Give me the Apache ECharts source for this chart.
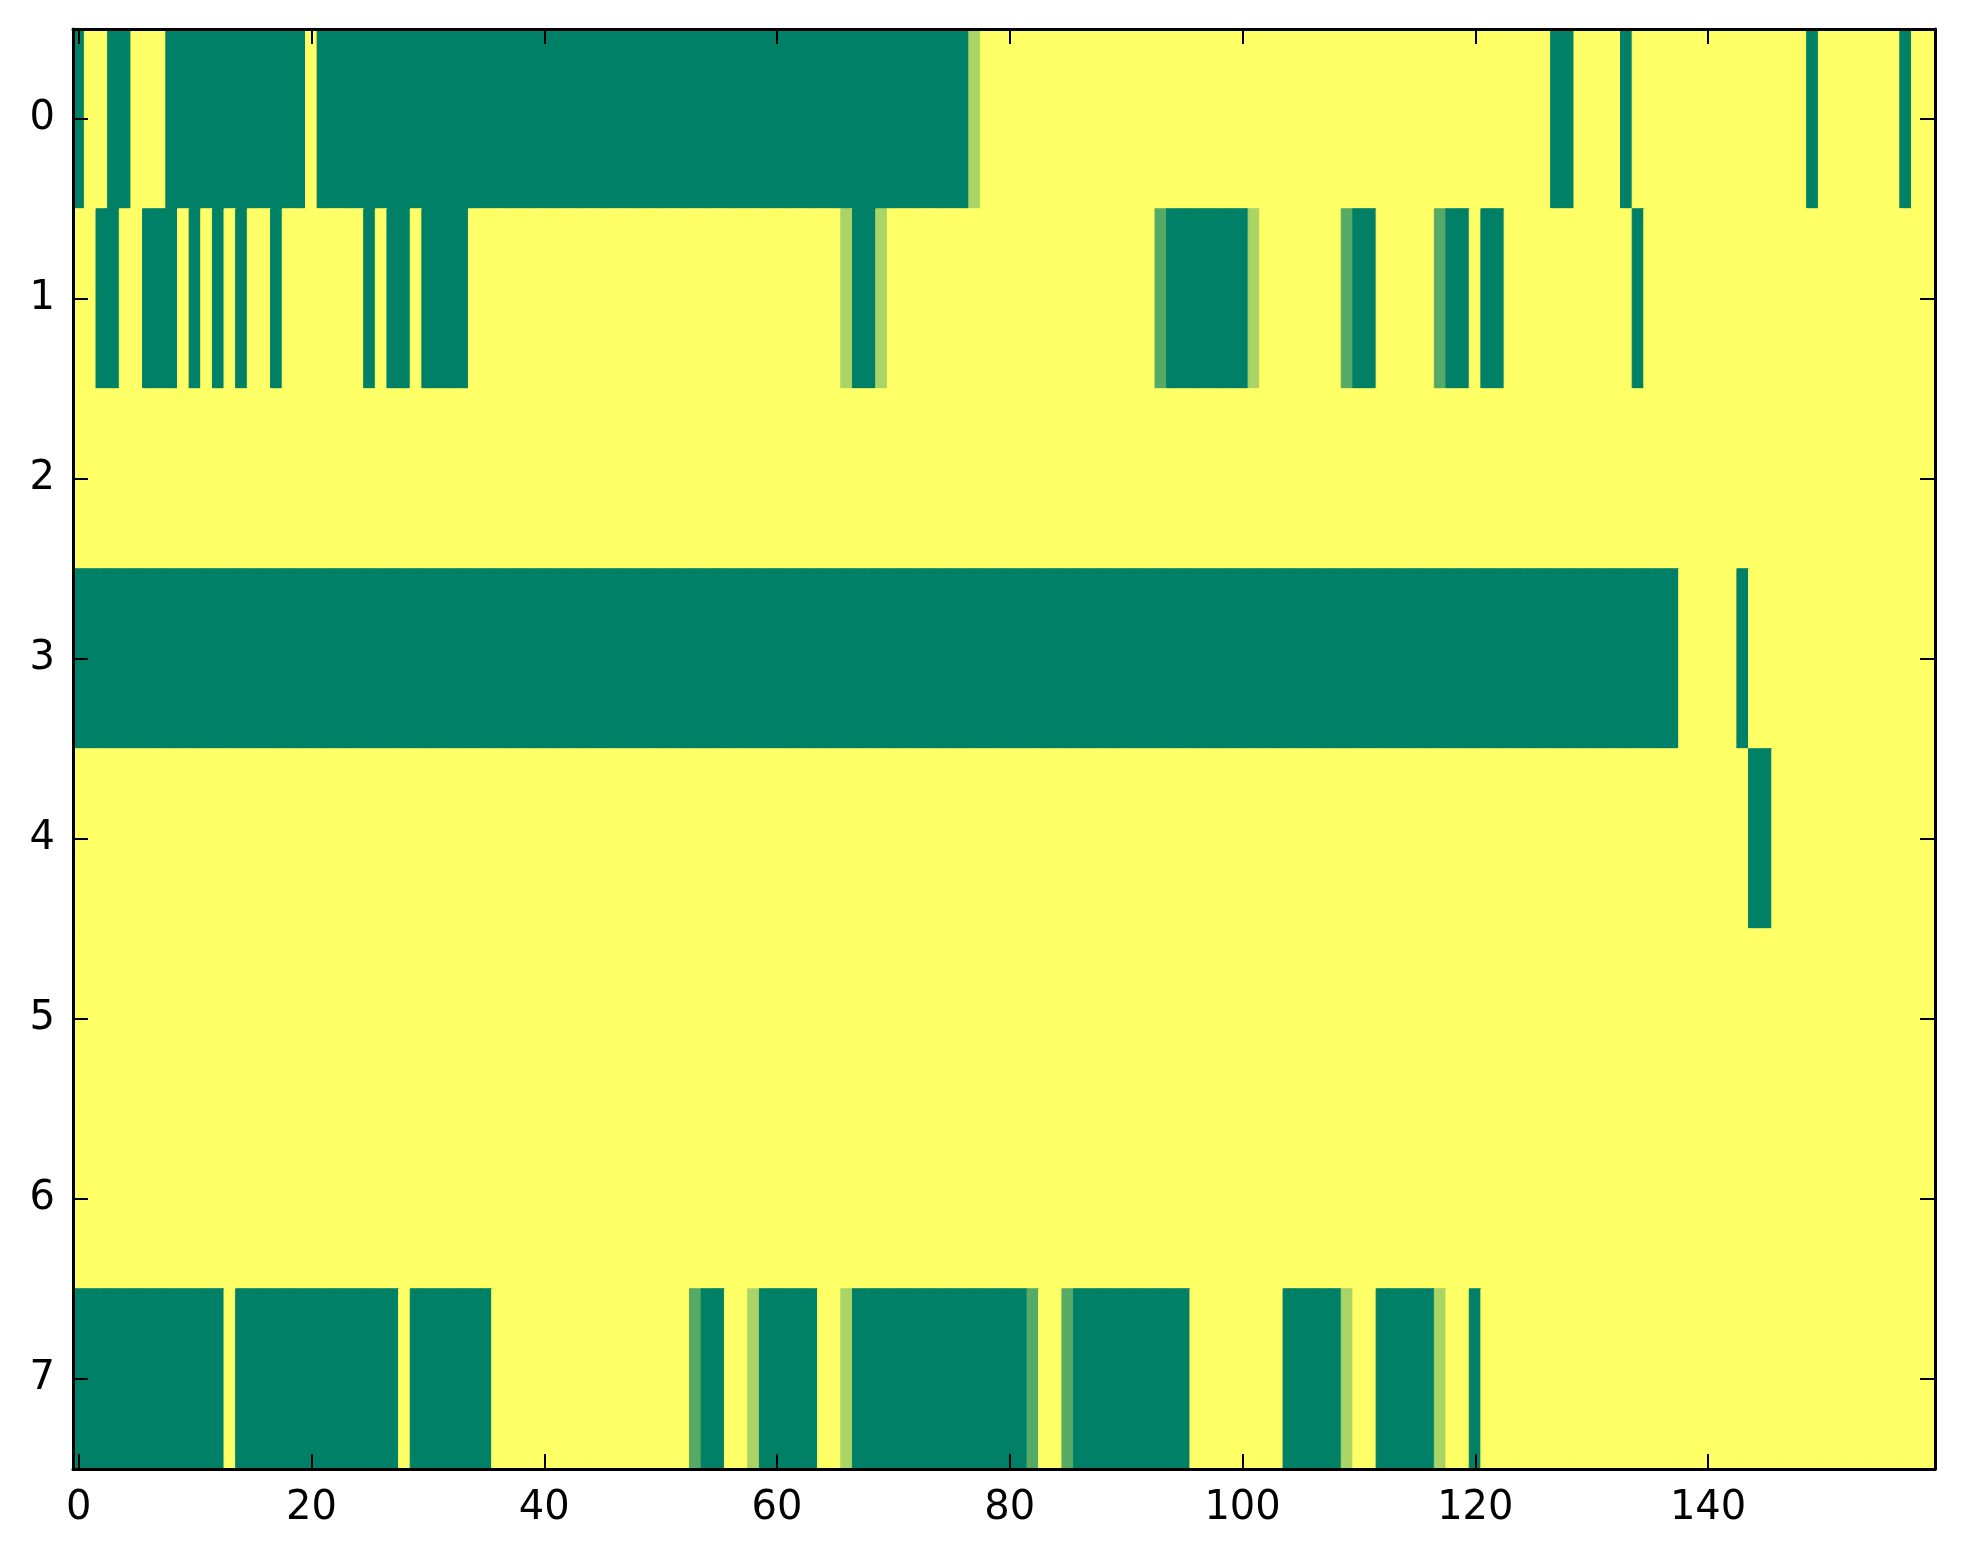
<!DOCTYPE html>
<html>
<head>
<meta charset="utf-8">
<script src="https://cdn.jsdelivr.net/npm/echarts@6/dist/echarts.min.js"></script>
<style>
html,body{margin:0;padding:0;background:#ffffff;}
#chart{width:1963px;height:1564px;}
</style>
</head>
<body>
<div id="chart"></div>
<script>
// Column categories (0..159) and row categories (0..7)
var columnCount = 160;
var rowLabels = ['0','1','2','3','4','5','6','7'];
var xTickLabels = ['0','20','40','60','80','100','120','140'];

// Cell values, in thirds (0 = green, 3 = yellow),
// run-length listed as [valueInThirds, numberOfCells] per row.
var row0Runs = [[0,1],[3,2],[0,2],[3,3],[0,12],[3,1],[0,56],[2,1],[3,49],[0,2],[3,4],[0,1],[3,15],[0,1],[3,7],[0,1],[3,2]];
var row1Runs = [[3,2],[0,2],[3,2],[0,3],[3,1],[0,1],[3,1],[0,1],[3,1],[0,1],[3,2],[0,1],[3,7],[0,1],[3,1],[0,2],[3,1],[0,4],[3,32],[2,1],[0,2],[2,1],[3,23],[1,1],[0,7],[2,1],[3,7],[1,1],[0,2],[3,5],[1,1],[0,2],[3,1],[0,2],[3,11],[0,1],[3,25]];
var row2Runs = [[3,160]];
var row3Runs = [[0,138],[3,5],[0,1],[3,16]];
var row4Runs = [[3,144],[0,2],[3,14]];
var row5Runs = [[3,160]];
var row6Runs = [[3,160]];
var row7Runs = [[0,13],[3,1],[0,14],[3,1],[0,7],[3,17],[1,1],[0,2],[3,2],[2,1],[0,5],[3,2],[2,1],[0,15],[1,1],[3,2],[1,1],[0,10],[3,8],[0,5],[2,1],[3,2],[0,5],[2,1],[3,2],[0,1],[3,39]];

var allRows = [row0Runs,row1Runs,row2Runs,row3Runs,row4Runs,row5Runs,row6Runs,row7Runs];

var xCategories = [];
for (var c = 0; c < columnCount; c++) xCategories.push(String(c));

// 'summer' colormap: green (0,128,102) -> yellow (255,255,102)
function summer(v){
  var r = Math.round(255 * v);
  var g = Math.round(127.5 + 127.5 * v);
  return 'rgb(' + r + ',' + g + ',102)';
}

var cells = [];
allRows.forEach(function(runs, r){
  var col = 0;
  runs.forEach(function(run){
    for (var k = 0; k < run[1]; k++) {
      var v = run[0] / 3;
      var colr = summer(v);
      cells.push({value:[col, r, v], itemStyle:{color:colr, borderColor:colr, borderWidth:1}});
      col++;
    }
  });
});

var fontFamily = 'DejaVu Sans';
var chart = echarts.init(document.getElementById('chart'), null, {renderer:'canvas'});
var tickStyle = {show:true, inside:true, length:15, lineStyle:{color:'#000', width:2}};
var lineStyle = {show:true, lineStyle:{color:'#000', width:3}};

chart.setOption({
  backgroundColor:'#ffffff',
  animation:false,
  grid:{left:73, top:29, width:1862, height:1440, containLabel:false},
  xAxis:[
    {type:'category', data:xCategories, position:'bottom', boundaryGap:true, z:10,
     axisLine:lineStyle,
     axisTick:Object.assign({}, tickStyle, {alignWithLabel:true, interval:19}),
     axisLabel:{show:true, interval:19, margin:20, color:'#000', fontSize:40, fontFamily:fontFamily,
       formatter:function(v){ return xTickLabels.indexOf(v) >= 0 ? v : ''; }},
     splitLine:{show:false}},
    {type:'category', data:xCategories, position:'top', boundaryGap:true, z:10,
     axisLine:lineStyle,
     axisTick:Object.assign({}, tickStyle, {alignWithLabel:true, interval:19}),
     axisLabel:{show:false}, splitLine:{show:false}}
  ],
  yAxis:[
    {type:'category', data:rowLabels, inverse:true, position:'left', boundaryGap:true, z:10,
     axisLine:lineStyle,
     axisTick:Object.assign({}, tickStyle, {alignWithLabel:true, interval:0}),
     axisLabel:{show:true, interval:0, margin:18, color:'#000', fontSize:40, fontFamily:fontFamily},
     splitLine:{show:false}},
    {type:'category', data:rowLabels, inverse:true, position:'right', boundaryGap:true, z:10,
     axisLine:lineStyle,
     axisTick:Object.assign({}, tickStyle, {alignWithLabel:true, interval:0}),
     axisLabel:{show:false}, splitLine:{show:false}}
  ],
  series:[{
    type:'heatmap', xAxisIndex:0, yAxisIndex:0, data:cells, z:2,
    emphasis:{disabled:true}, progressive:0
  }]
});
</script>
</body>
</html>
